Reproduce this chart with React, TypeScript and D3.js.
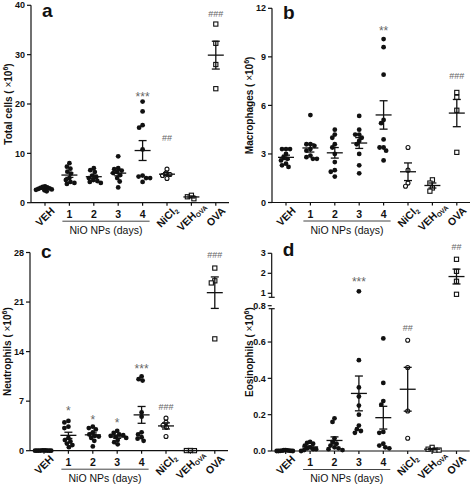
import React from "react";
import * as d3 from "d3";

// ---------- data ----------
const categories = ["VEH", "1", "2", "3", "4", "NiCl2", "VEH_OVA", "OVA"];
const markers = ["dot", "dot", "dot", "dot", "dot", "circle", "square", "square"];

const totalCells = [
  [3.3, 3.2, 3.1, 3.0, 2.9, 2.8, 2.7, 2.6, 2.5, 2.3],
  [8.0, 7.3, 6.9, 6.3, 5.9, 5.0, 4.6, 4.2, 4.0, 3.8],
  [7.0, 6.6, 6.2, 5.5, 5.2, 5.0, 4.6, 4.4, 4.2, 4.0],
  [9.4, 7.0, 6.8, 6.5, 6.2, 6.0, 5.6, 5.0, 4.3, 3.1],
  [20.5, 18.5, 15.7, 15.2, 10.8, 5.5, 5.3, 5.0, 5.0, 4.2],
  [6.8, 6.0, 5.7, 5.5, 4.9],
  [1.5, 1.2, 0.8],
  [36.2, 32.3, 28.0, 23.1],
];
const macrophages = [
  [3.3, 3.3, 3.3, 3.0, 2.8, 2.7, 2.6, 2.4, 2.3, 2.2],
  [5.4, 3.6, 3.6, 3.5, 3.3, 3.2, 2.9, 2.8, 2.7, 2.7],
  [4.5, 4.2, 4.0, 3.6, 3.4, 3.0, 2.5, 2.0, 1.9, 1.6],
  [5.35, 4.5, 4.2, 4.2, 4.0, 3.8, 3.6, 3.0, 2.3, 1.8],
  [10.1, 9.6, 7.9, 5.1, 4.9, 3.9, 3.4, 3.4, 3.2, 2.6],
  [3.4, 2.0, 1.2, 1.0],
  [1.4, 1.2, 0.9, 0.7],
  [6.8, 6.5, 5.7, 3.1],
];
const neutrophils = [
  [0.05, 0.04, 0.03, 0.02, 0.02, 0.01, 0.01, 0, 0, 0],
  [4.2, 4.0, 3.4, 3.2, 1.8, 1.5, 1.3, 1.0, 0.8, 0.5],
  [3.4, 3.2, 3.0, 2.6, 2.3, 2.1, 2.0, 1.8, 1.4, 0.6],
  [2.8, 2.5, 2.3, 2.2, 2.1, 2.0, 1.8, 1.5, 1.2, 0.9],
  [10.5, 10.1, 9.9, 5.4, 4.8, 2.6, 2.3, 1.9, 1.7, 1.4],
  [4.6, 4.0, 3.6, 3.3, 2.0],
  [0.03, 0.02, 0.01],
  [25.8, 24.0, 23.7, 15.8],
];
const eosinophils = [
  [0.005, 0.004, 0.003, 0.002, 0.002, 0.001, 0.001, 0, 0, 0],
  [0.05, 0.045, 0.04, 0.03, 0.02, 0.015, 0.01, 0.01, 0.005, 0.0],
  [0.18, 0.16, 0.07, 0.05, 0.04, 0.03, 0.02, 0.015, 0.01, 0.005],
  [1.1, 0.5, 0.35, 0.3, 0.25, 0.2, 0.14, 0.12, 0.11, 0.1],
  [0.62, 0.375, 0.275, 0.255, 0.105, 0.1, 0.04, 0.03, 0.02, 0.015],
  [0.61, 0.46, 0.22, 0.07],
  [0.02, 0.01, 0.005, 0.005],
  [2.7, 2.1, 1.6, 0.95],
];

const totalCellsMarks = [
  { g: 4, text: "***", v: 22.3 },
  { g: 5, text: "##", v: 13.2 },
  { g: 7, text: "###", v: 38.2 },
];
const macrophagesMarks = [
  { g: 4, text: "**", v: 10.9 },
  { g: 7, text: "###", v: 7.8 },
];
const neutrophilsMarks = [
  { g: 1, text: "*", v: 6.2 },
  { g: 2, text: "*", v: 4.9 },
  { g: 3, text: "*", v: 4.5 },
  { g: 4, text: "***", v: 12.2 },
  { g: 5, text: "###", v: 6.2 },
  { g: 7, text: "###", v: 27.6 },
];
const eosinophilsMarks = [
  { g: 3, text: "***", v: 1.8 },
  { g: 5, text: "##", v: 0.68 },
  { g: 7, text: "##", v: 3.3 },
];

const yTicksA = [0, 10, 20, 30, 40];
const yTicksB = [0, 3, 6, 9, 12];
const yTicksC = [0, 7, 14, 21, 28];
const yTicksDLow = [0, 0.2, 0.4, 0.6, 0.8];
const yTicksDHigh = [1, 2, 3];

// ---------- helpers ----------
const FONT = "'Liberation Sans', Arial, Helvetica, sans-serif";
const INK = "#111";
const GREY = "#666";

function swarm(ys: number[], minD: number, maxHalf: number): number[] {
  const order = d3.range(ys.length).sort((a, b) => ys[a] - ys[b]);
  const placed: { x: number; y: number }[] = [];
  const xs = new Array(ys.length).fill(0);
  for (const i of order) {
    const y = ys[i];
    let best = 0;
    for (let k = 0; k < 400; k++) {
      const dx = (k % 2 === 0 ? 1 : -1) * Math.ceil(k / 2) * 0.5;
      if (placed.every((p) => (p.x - dx) ** 2 + (p.y - y) ** 2 >= minD * minD)) {
        best = dx;
        break;
      }
    }
    xs[i] = best;
    placed.push({ x: best, y });
  }
  const m = d3.max(xs, (d) => Math.abs(d)) || 0;
  return m > maxHalf ? xs.map((d) => (d * maxHalf) / m) : xs;
}

type Segment = { domain: [number, number]; range: [number, number]; ticks: number[]; fmt: (v: number) => string };
type Mark = { g: number; text: string; v: number };
type PanelProps = {
  letter: string;
  letterY: number;
  ylabel: string;
  values: number[][];
  marks: Mark[];
  ox: number;
  oy: number;
  segments: Segment[];
};

function CatLabel({ name, x, y }: { name: string; x: number; y: number }) {
  const cy = y + 14;
  const common = {
    x: 0,
    y: 0,
    dy: "0.35em",
    textAnchor: "middle" as const,
    fontFamily: FONT,
    fontWeight: 700,
    fontSize: 10.5,
    fill: INK,
  };
  let body: React.ReactNode = name;
  if (name === "NiCl2")
    body = (
      <>
        NiCl<tspan fontSize={6.5} dy={2}>2</tspan>
      </>
    );
  if (name === "VEH_OVA")
    body = (
      <>
        VEH<tspan fontSize={6.5} dy={2}>OVA</tspan>
      </>
    );
  return (
    <g transform={`translate(${x},${cy}) rotate(-45)`}>
      <text {...common}>{body}</text>
    </g>
  );
}

function Panel(p: PanelProps) {
  const scales = p.segments.map((s) => d3.scaleLinear().domain(s.domain).range(s.range));
  const y = (v: number) => {
    if (scales.length > 1 && v > p.segments[0].domain[1]) return scales[1](v);
    return scales[0](v);
  };
  const x = d3
    .scalePoint<number>()
    .domain(d3.range(categories.length))
    .range([p.ox + 14, p.ox + 14 + 24.4 * (categories.length - 1)]);
  const axisEnd = p.ox + 198;
  const yTop = Math.min(...p.segments.map((s) => s.range[1]));
  const yMid = (yTop + p.oy) / 2;
  const r = 2.4;

  return (
    <g>
      {/* y axis */}
      {p.segments.map((s, si) => {
        const multi = p.segments.length > 1;
        const lo = multi && si === 1 ? s.range[0] + 4 : s.range[0];
        const hi = multi && si === 0 ? s.range[1] + 3 : s.range[1];
        return (
          <g key={"seg" + si}>
            <line x1={p.ox} x2={p.ox} y1={lo} y2={hi} stroke={INK} strokeWidth={1.2} />
            {multi && si === 1 && <line x1={p.ox - 3} x2={p.ox + 3} y1={lo} y2={lo} stroke={INK} strokeWidth={1.2} />}
            {multi && si === 0 && <line x1={p.ox - 3} x2={p.ox + 3} y1={hi} y2={hi} stroke={INK} strokeWidth={1.2} />}
            {s.ticks.map((t) => (
              <g key={t}>
                <line x1={p.ox - 4} x2={p.ox} y1={scales[si](t)} y2={scales[si](t)} stroke={INK} strokeWidth={1.2} />
                <text
                  x={p.ox - 6}
                  y={scales[si](t)}
                  dy="0.35em"
                  textAnchor="end"
                  fontFamily={FONT}
                  fontWeight={700}
                  fontSize={9}
                  fill={INK}
                >
                  {s.fmt(t)}
                </text>
              </g>
            ))}
          </g>
        );
      })}
      {/* y label */}
      <text
        transform={`translate(${p.ox - 19},${yMid}) rotate(-90)`}
        textAnchor="middle"
        fontFamily={FONT}
        fontWeight={700}
        fontSize={10}
        fill={INK}
      >
        {p.ylabel} ( <tspan fontWeight={400}>×</tspan>10<tspan fontSize={7} dy={-4}>6</tspan>
        <tspan dy={4}>)</tspan>
      </text>
      {/* panel letter */}
      <text x={p.ox + 11} y={p.letterY} fontFamily={FONT} fontWeight={700} fontSize={19} fill={INK}>
        {p.letter}
      </text>
      {/* x axis */}
      <line x1={p.ox} x2={axisEnd} y1={p.oy} y2={p.oy} stroke={INK} strokeWidth={1.2} />
      {categories.map((c, i) => (
        <line key={"xt" + i} x1={x(i)} x2={x(i)} y1={p.oy} y2={p.oy + 3} stroke={INK} strokeWidth={1.2} />
      ))}
      {categories.map((c, i) =>
        markers[i] === "dot" && i > 0 ? (
          <text
            key={"xl" + i}
            x={x(i)}
            y={p.oy + 15}
            textAnchor="middle"
            fontFamily={FONT}
            fontWeight={700}
            fontSize={10.5}
            fill={INK}
          >
            {c}
          </text>
        ) : (
          <CatLabel key={"xl" + i} name={c} x={x(i)!} y={p.oy} />
        )
      )}
      <line x1={x(1)! - 7} x2={x(4)! + 7} y1={p.oy + 18.5} y2={p.oy + 18.5} stroke="#444" strokeWidth={1} />
      <text
        x={(x(1)! + x(4)!) / 2}
        y={p.oy + 31}
        textAnchor="middle"
        fontFamily={FONT}
        fontSize={10.5}
        fill={INK}
      >
        NiO NPs (days)
      </text>
      {/* points */}
      {p.values.map((vals, gi) => {
        const ys = vals.map(y);
        const dxs = swarm(ys, 4.0, 9);
        const cx = x(gi)!;
        return (
          <g key={"g" + gi}>
            {vals.map((v, j) => {
              const px = cx + dxs[j];
              const py = ys[j];
              if (markers[gi] === "dot") return <circle key={j} cx={px} cy={py} r={r} fill={INK} />;
              if (markers[gi] === "circle")
                return <circle key={j} cx={px} cy={py} r={2} fill="#fff" stroke={INK} strokeWidth={1.1} />;
              return (
                <rect key={j} x={px - 2.1} y={py - 2.1} width={4.2} height={4.2} fill="#fff" stroke={INK} strokeWidth={1.1} />
              );
            })}
          </g>
        );
      })}
      {/* mean ± SEM */}
      {p.values.map((vals, gi) => {
        const m = d3.mean(vals)!;
        const sem = (d3.deviation(vals) || 0) / Math.sqrt(vals.length);
        const cx = x(gi)!;
        const ym = y(m);
        const y1 = y(m + sem);
        const y2 = y(m - sem);
        return (
          <g key={"m" + gi} stroke={INK} strokeWidth={1.3}>
            <line x1={cx - 8} x2={cx + 8} y1={ym} y2={ym} />
            <line x1={cx} x2={cx} y1={y1} y2={y2} />
            <line x1={cx - 4} x2={cx + 4} y1={y1} y2={y1} />
            <line x1={cx - 4} x2={cx + 4} y1={y2} y2={y2} />
          </g>
        );
      })}
      {/* significance marks */}
      {p.marks.map((mk, k) => (
        <text
          key={"s" + k}
          x={x(mk.g)}
          y={y(mk.v)}
          dy={mk.text[0] === "*" ? "0.7em" : "0.35em"}
          textAnchor="middle"
          fontFamily={FONT}
          fontSize={mk.text[0] === "*" ? 12 : 9}
          fill={GREY}
        >
          {mk.text}
        </text>
      ))}
    </g>
  );
}

const fmt0 = (v: number) => d3.format("d")(v);
const fmt1 = (v: number) => d3.format(".1f")(v);

export default function App() {
  return (
    <svg
      width={472}
      height={484}
      style={{ position: "absolute", left: 0, top: 0, background: "#fff" }}
    >
      <rect width={472} height={484} fill="#fff" />
      <Panel
        letter="a"
        letterY={17}
        ylabel="Total cells"
        values={totalCells}
        marks={totalCellsMarks}
        ox={31}
        oy={202.7}
        segments={[{ domain: [0, 40], range: [202.7, 5.3], ticks: yTicksA, fmt: fmt0 }]}
      />
      <Panel
        letter="b"
        letterY={19}
        ylabel="Macrophages"
        values={macrophages}
        marks={macrophagesMarks}
        ox={272}
        oy={202.5}
        segments={[{ domain: [0, 12], range: [202.5, 8.3], ticks: yTicksB, fmt: fmt0 }]}
      />
      <Panel
        letter="c"
        letterY={258}
        ylabel="Neutrophils"
        values={neutrophils}
        marks={neutrophilsMarks}
        ox={30}
        oy={450.7}
        segments={[{ domain: [0, 28], range: [450.7, 252.5], ticks: yTicksC, fmt: fmt0 }]}
      />
      <Panel
        letter="d"
        letterY={256}
        ylabel="Eosinophils"
        values={eosinophils}
        marks={eosinophilsMarks}
        ox={271.7}
        oy={451}
        segments={[
          { domain: [0, 0.8], range: [451, 305.7], ticks: yTicksDLow, fmt: fmt1 },
          { domain: [1, 3], range: [293.3, 253.3], ticks: yTicksDHigh, fmt: fmt0 },
        ]}
      />
    </svg>
  );
}
